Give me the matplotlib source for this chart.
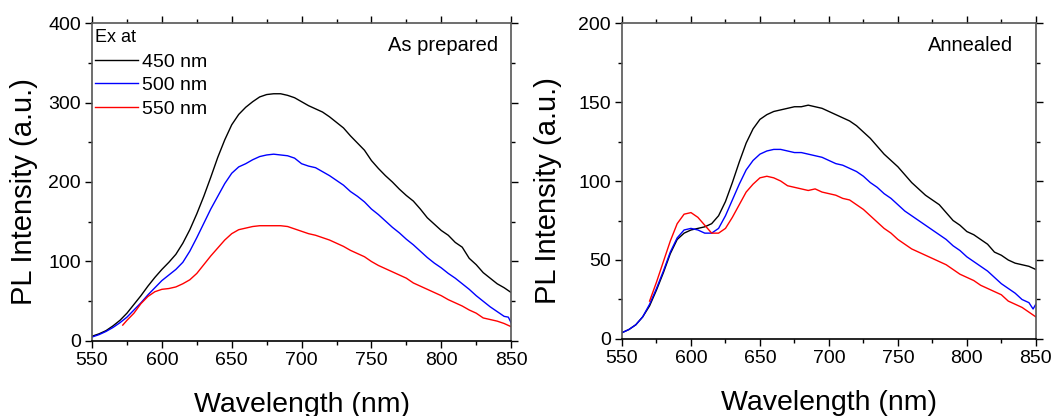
import numpy as np
import matplotlib
matplotlib.use("Agg")
import matplotlib.pyplot as plt
from matplotlib.ticker import MultipleLocator

plt.rcParams['font.family'] = ['Liberation Sans', 'DejaVu Sans']

# ---- data (5 nm steps) ----
wl = list(range(550, 855, 5))

# As prepared
prep_450 = [6, 9, 13, 19, 26, 35, 46, 57, 69, 80, 90, 99, 109, 123, 140, 160,
            182, 206, 231, 253, 272, 285, 294, 301, 307, 310, 311, 311, 309,
            306, 301, 296, 292, 288, 282, 275, 268, 258, 249, 240, 227, 217,
            208, 200, 191, 183, 176, 166, 155, 147, 139, 133, 124, 118, 104,
            96, 86, 79, 72, 67, 61]
wl_blue_prep = wl[:-1] + [848, 850]
prep_500 = [5, 8, 12, 17, 23, 30, 39, 48, 58, 67, 76, 83, 90, 99, 113, 130,
            148, 166, 182, 198, 211, 219, 223, 228, 232, 234, 235, 234, 233,
            230, 223, 220, 218, 213, 208, 202, 196, 188, 182, 175, 166, 159,
            151, 143, 136, 128, 121, 113, 105, 98, 92, 85, 79, 72, 65, 57, 50,
            43, 37, 31, 30, 23]
wl_red_prep = [572] + list(range(575, 855, 5))
prep_550 = [20, 26, 35, 47, 56, 62, 65, 66, 68, 72, 77, 85, 96, 107, 117,
            127, 135, 140, 142, 144, 145, 145, 145, 145, 144, 141, 138, 135,
            133, 130, 127, 123, 119, 114, 110, 106, 100, 95, 91, 87, 83, 79,
            73, 69, 65, 61, 57, 52, 48, 44, 39, 35, 29, 27, 25, 22, 18]

# Annealed
ann_450 = [4, 6, 9, 14, 21, 31, 42, 54, 63, 67, 69, 70, 71, 73, 78, 87, 99,
           112, 124, 133, 139, 142, 144, 145, 146, 147, 147, 148, 147, 146,
           144, 142, 140, 138, 135, 131, 127, 122, 117, 113, 109, 104, 99, 95,
           91, 88, 85, 80, 75, 72, 68, 66, 63, 60, 55, 53, 50, 48, 47, 46, 44]
wl_blue_ann = wl[:-1] + [848, 850]
ann_500 = [4, 6, 9, 14, 22, 32, 43, 55, 64, 69, 70, 69, 67, 67, 70, 78, 88,
           98, 107, 113, 117, 119, 120, 120, 119, 118, 118, 117, 116, 115,
           113, 111, 110, 108, 106, 103, 99, 96, 92, 89, 85, 81, 78, 75, 72,
           69, 66, 63, 59, 56, 52, 49, 46, 43, 39, 35, 32, 29, 25, 23, 19, 22]
wl_red_ann = list(range(570, 855, 5))
ann_550 = [24, 36, 49, 62, 73, 79, 80, 77, 72, 67, 67, 70, 77, 85, 93, 98,
           102, 103, 102, 100, 97, 96, 95, 94, 95, 93, 92, 91, 89, 88, 85, 82,
           78, 74, 70, 67, 63, 60, 57, 55, 53, 51, 49, 47, 44, 41, 39, 37, 34,
           32, 30, 28, 24, 22, 20, 17, 14]

labels = ['450 nm', '500 nm', '550 nm']
colors = ['black', 'blue', 'red']


def style_axes(ax, ymax, ymaj, ymin):
    ax.set_xlim(550, 850)
    ax.set_ylim(0, ymax)
    ax.xaxis.set_major_locator(MultipleLocator(50))
    ax.xaxis.set_minor_locator(MultipleLocator(25))
    ax.yaxis.set_major_locator(MultipleLocator(ymaj))
    ax.yaxis.set_minor_locator(MultipleLocator(ymin))
    ax.tick_params(which='major', direction='out', length=5, width=1,
                   labelsize=14, pad=3)
    ax.tick_params(which='minor', direction='out', length=3, width=1)
    ax.tick_params(which='both', top=True, right=True)
    for side in ('left', 'top', 'right'):
        ax.spines[side].set_color('#555555')
    for sp in ax.spines.values():
        sp.set_linewidth(1.2)
    ax.set_xlabel('Wavelength (nm)', fontsize=20.5)
    ax.set_ylabel('PL Intensity (a.u.)', fontsize=21)
    ax.xaxis.set_label_coords(0.5, -0.16)


fig = plt.figure(figsize=(10.53, 4.16), dpi=100)
ax1 = fig.add_axes([0.0874, 0.1803, 0.398, 0.7644])
ax2 = fig.add_axes([0.5907, 0.1851, 0.393, 0.7596])

# left panel: as prepared
ax1.plot(wl, prep_450, color=colors[0], lw=1, label=labels[0])
ax1.plot(wl_blue_prep, prep_500, color=colors[1], lw=1, label=labels[1])
ax1.plot(wl_red_prep, prep_550, color=colors[2], lw=1, label=labels[2])
style_axes(ax1, 400, 100, 50)
ax1.yaxis.set_label_coords(-0.13, 0.47)
ax1.text(0.007, 0.954, 'Ex at', transform=ax1.transAxes, ha='left',
         va='center', fontsize=13)
ax1.legend(loc='upper left', bbox_to_anchor=(0.007, 0.905), fontsize=14,
           frameon=False, handlelength=2.2, handletextpad=0.2,
           borderaxespad=0, borderpad=0, labelspacing=0.3)
ax1.text(0.969, 0.93, 'As prepared', transform=ax1.transAxes, ha='right',
         va='center', fontsize=14.5)

# right panel: annealed
ax2.plot(wl, ann_450, color=colors[0], lw=1)
ax2.plot(wl_blue_ann, ann_500, color=colors[1], lw=1)
ax2.plot(wl_red_ann, ann_550, color=colors[2], lw=1)
style_axes(ax2, 200, 50, 25)
ax2.yaxis.set_label_coords(-0.145, 0.47)
ax2.text(0.944, 0.93, 'Annealed', transform=ax2.transAxes, ha='right',
         va='center', fontsize=14.5)

fig.savefig('out.png', dpi=100)
